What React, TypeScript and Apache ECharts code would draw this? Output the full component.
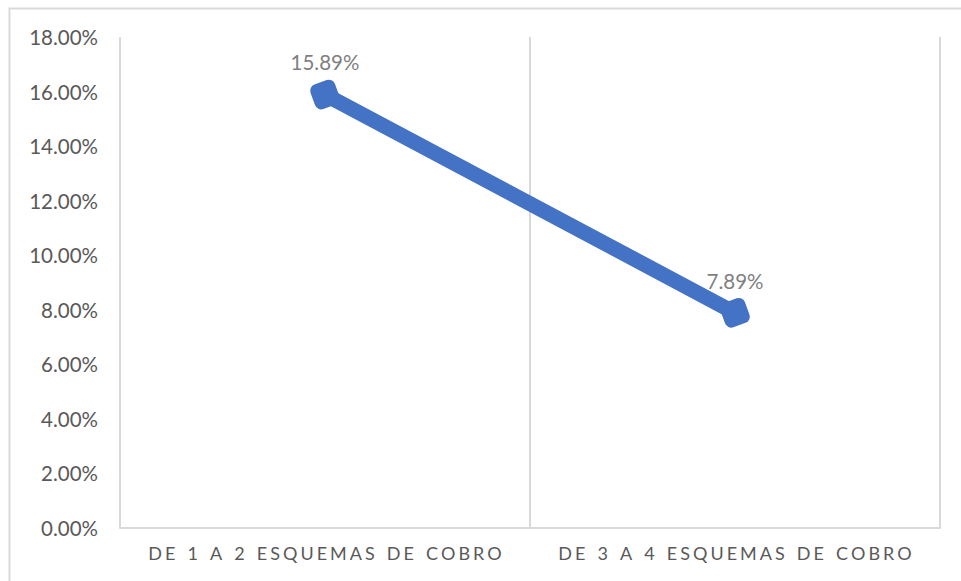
import React, { useEffect, useRef } from "react";
import * as echarts from "echarts";

const categories = ["DE 1 A 2 ESQUEMAS DE COBRO", "DE 3 A 4 ESQUEMAS DE COBRO"];
const values = [15.89, 7.89];
const yTicks = { min: 0, max: 18, interval: 2 };

const spaced = (s: string) =>
  s
    .split(" ")
    .map((w) => w.split("").join("\u2006"))
    .join("\u2005 \u2006");

export default function App() {
  const ref = useRef<HTMLDivElement>(null);
  useEffect(() => {
    document.body.style.margin = "0";
    const chart = echarts.init(ref.current!, null, { renderer: "svg" });
    chart.setOption({
      animation: false,
      backgroundColor: "#ffffff",
      graphic: [
        {
          type: "rect",
          shape: { x: 9.5, y: 8.5, width: 1000, height: 700 },
          style: { fill: "none", stroke: "#d9d9d9", lineWidth: 2 },
          silent: true,
        },
      ],
      grid: { left: 120, right: 21, top: 37, bottom: 53, containLabel: false },
      xAxis: {
        type: "category",
        data: categories,
        boundaryGap: true,
        axisLine: { show: true, lineStyle: { color: "#d9d9d9", width: 2 } },
        axisTick: { show: false },
        splitLine: { show: true, lineStyle: { color: "#d9d9d9", width: 2 } },
        axisLabel: {
          interval: 0,
          hideOverlap: false,
          margin: 16,
          color: "#595959",
          fontFamily: "Lato, 'Open Sans', sans-serif",
          fontSize: 18,
          formatter: (v: string) => spaced(v),
        },
      },
      yAxis: {
        type: "value",
        min: yTicks.min,
        max: yTicks.max,
        interval: yTicks.interval,
        axisLine: { show: false },
        axisTick: { show: false },
        splitLine: { show: false },
        axisLabel: {
          margin: 22,
          color: "#595959",
          fontFamily: "Lato, 'Open Sans', sans-serif",
          fontSize: 20.5,
          formatter: (v: number) => v.toFixed(2) + "%",
        },
      },
      series: [
        {
          type: "line",
          data: values,
          lineStyle: { color: "#4472c4", width: 15, cap: "round" },
          itemStyle: { color: "#4472c4" },
          symbol: "roundRect",
          symbolSize: 26,
          symbolRotate: 20,
          label: {
            show: true,
            position: "top",
            distance: 5,
            color: "#7f7f7f",
            fontFamily: "Lato, 'Open Sans', sans-serif",
            fontSize: 20.5,
            formatter: (p: any) => p.value.toFixed(2) + "%",
          },
        },
      ],
    });
    return () => chart.dispose();
  }, []);
  return <div ref={ref} style={{ width: 961, height: 581 }} />;
}
